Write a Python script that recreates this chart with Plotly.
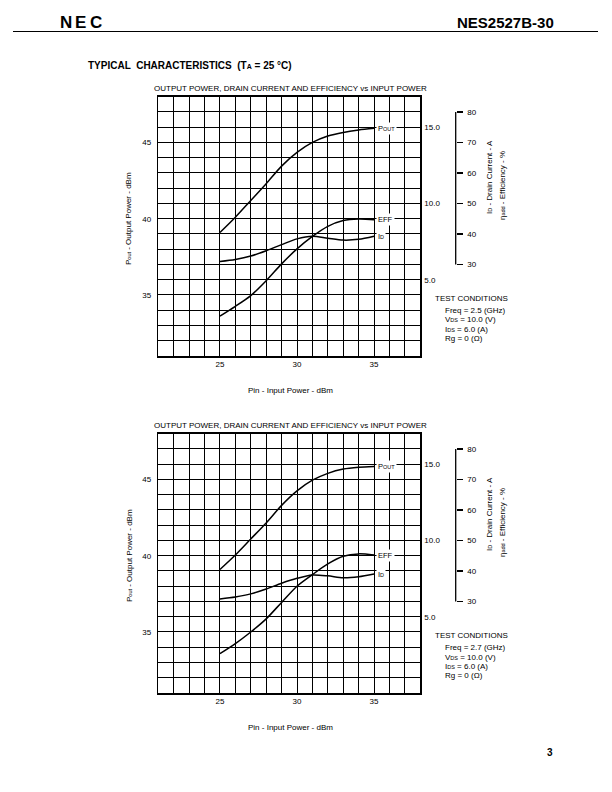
import plotly.graph_objects as go

# ---------------- data ----------------
pin = [25, 26, 27, 28, 29, 30, 31, 32, 33, 34, 35]

# chart 1 : Freq = 2.5 GHz
pout_a = [39.1, 40.1, 41.2, 42.3, 43.45, 44.35, 45.0, 45.42, 45.66, 45.82, 45.93]
eff_a = [13.1, 16.3, 19.8, 24.7, 30.2, 35.1, 39.2, 42.5, 44.4, 44.9, 44.7]
id_a = [6.2, 6.33, 6.55, 6.9, 7.3, 7.68, 7.85, 7.72, 7.6, 7.65, 7.85]

# chart 2 : Freq = 2.7 GHz
pout_b = [39.1, 40.05, 41.1, 42.15, 43.3, 44.25, 44.95, 45.4, 45.68, 45.8, 45.85]
eff_b = [12.9, 16.2, 20.0, 24.3, 29.7, 35.0, 38.8, 42.3, 44.8, 45.6, 45.2]
id_b = [6.17, 6.3, 6.5, 6.82, 7.2, 7.52, 7.74, 7.68, 7.55, 7.62, 7.8]

x_ticks = [25, 30, 35]
pout_ticks = [35, 40, 45]
id_ticks = [5, 10, 15]
id_ticktext = ["5.0", "10.0", "15.0"]
eff_ticks = [30, 40, 50, 60, 70, 80]

freq_a = "Freq = 2.5 (GHz)"
freq_b = "Freq = 2.7 (GHz)"
chart_title = "OUTPUT POWER, DRAIN CURRENT AND EFFICIENCY vs INPUT POWER"

# ---------------- layout helpers ----------------
W, H = 612, 792
FONT = "Liberation Sans, Arial, sans-serif"
FS = 8


def px(x):
    return x / W


def py(y):
    return 1 - y / H


def sm(t, s=5.5):
    return f"<span style='font-size:{s}px'>{t}</span>"


L, R = 158.3, 420.3
TOP1, BOT1 = 96.7, 356.0
OFF = 337.0
EFF_X = 455.7
GW = 1

fig = go.Figure()
annotations = []
shapes = []


def ann(x, y, text, size=FS, xanchor="left", bold=False, angle=0, yanchor="middle"):
    annotations.append(dict(x=px(x), y=py(y), xref="paper", yref="paper",
                            text=f"<b>{text}</b>" if bold else text,
                            showarrow=False, xanchor=xanchor, yanchor=yanchor, textangle=angle,
                            font=dict(family=FONT, size=size, color="black")))


charts = [
    dict(k=1, top=TOP1, bot=BOT1, pout=pout_a, eff=eff_a, idd=id_a, freq=freq_a),
    dict(k=2, top=TOP1 + OFF, bot=BOT1 + OFF, pout=pout_b, eff=eff_b, idd=id_b, freq=freq_b),
]

lay = {}
for c in charts:
    k = c["k"]
    xn = "x" if k == 1 else "x2"
    xl = "xaxis" if k == 1 else "xaxis2"
    yi = 1 if k == 1 else 4
    yn = "y" if yi == 1 else f"y{yi}"
    yl = "yaxis" if yi == 1 else f"yaxis{yi}"
    yid_n, yid_l = f"y{yi+1}", f"yaxis{yi+1}"
    yef_n, yef_l = f"y{yi+2}", f"yaxis{yi+2}"
    tf = dict(family=FONT, size=FS, color="black")

    lay[xl] = dict(domain=[px(L), px(R)], range=[21, 38], anchor=yn, tickvals=x_ticks,
                   ticks="", showgrid=True, gridcolor="black", gridwidth=GW,
                   minor=dict(dtick=1, showgrid=True, gridcolor="black", gridwidth=GW, ticks=""),
                   showline=True, mirror=True, linecolor="black", linewidth=1.5,
                   zeroline=False, tickfont=tf, fixedrange=True, ticklabelstandoff=0)
    lay[yl] = dict(domain=[py(c["bot"]), py(c["top"])], range=[31, 48], anchor=xn,
                   tickvals=pout_ticks, ticks="", showgrid=True, gridcolor="black", gridwidth=GW,
                   minor=dict(dtick=1, showgrid=True, gridcolor="black", gridwidth=GW, ticks=""),
                   showline=True, mirror=True, linecolor="black", linewidth=1.5,
                   zeroline=False, tickfont=tf, fixedrange=True, ticklabelstandoff=4)
    lay[yid_l] = dict(overlaying=yn, side="right", anchor=xn, range=[0, 17],
                      tickvals=id_ticks, ticktext=id_ticktext, showgrid=False, zeroline=False,
                      showline=False, ticks="", tickfont=tf, fixedrange=True, ticklabelstandoff=3)
    lay[yef_l] = dict(overlaying=yn, side="right", anchor="free", position=px(EFF_X),
                      range=[0, 85], tickvals=eff_ticks, ticks="outside", ticklen=6,
                      tickwidth=1.3, tickcolor="black", showgrid=False, zeroline=False,
                      showline=False, tickfont=tf, fixedrange=True, ticklabelstandoff=3)

    shapes.append(dict(type="line", xref="paper", yref=yef_n, x0=px(EFF_X), x1=px(EFF_X),
                       y0=eff_ticks[0], y1=eff_ticks[-1], line=dict(color="black", width=1.3)))

    line = dict(color="black", width=1.5, shape="spline", smoothing=0.8)
    fig.add_trace(go.Scatter(x=pin, y=c["pout"], xaxis=xn, yaxis=yn, mode="lines",
                             line=line, hoverinfo="skip", showlegend=False))
    fig.add_trace(go.Scatter(x=pin, y=c["idd"], xaxis=xn, yaxis=yid_n, mode="lines",
                             line=line, hoverinfo="skip", showlegend=False))
    fig.add_trace(go.Scatter(x=pin, y=c["eff"], xaxis=xn, yaxis=yef_n, mode="lines",
                             line=line, hoverinfo="skip", showlegend=False))

    # curve labels (white boxes over grid)
    d = (k - 1) * OFF
    for xv, yv, ax, txt in [
        (35.1, c["pout"][-1], yn, "P" + sm("OUT")),
        (35.1, c["eff"][-1], yef_n, "EFF"),
        (35.1, c["idd"][-1], yid_n, "I" + sm("D")),
    ]:
        annotations.append(dict(x=xv, y=yv, xref=xn, yref=ax, text=txt, showarrow=False,
                                xanchor="left", yanchor="middle", bgcolor="white", borderpad=1,
                                font=dict(family=FONT, size=7.5, color="black")))

    ann(290, 88 + d, chart_title, xanchor="center")
    ann(129, 219 + d, "P" + sm("out") + " - Output Power - dBm", xanchor="center", angle=-90)
    ann(290, 390 + d, "Pin - Input Power - dBm", xanchor="center")
    ann(489, 177 + d, "I" + sm("D") + " - Drain Current - A", xanchor="center", angle=-90)
    ann(502, 186 + d, "η" + sm("add") + " - Efficiency - %", xanchor="center", angle=-90)
    ann(433, 298 + d, "TEST CONDITIONS")
    ann(443, 310.5 + d, c["freq"])
    ann(443, 320 + d, "V" + sm("DS") + " = 10.0 (V)")
    ann(443, 329.3 + d, "I" + sm("DS") + " = 6.0 (A)")
    ann(443, 338.5 + d, "Rg = 0 (Ω)")

# header / page
for cx, ch in [(65.5, "N"), (80.5, "E"), (96, "C")]:
    ann(cx, 22, ch, size=17, xanchor="center", bold=True)
ann(556, 22, "NES2527B-30", size=15, xanchor="right", bold=True)
ann(86, 65, "TYPICAL  CHARACTERISTICS  (T" + sm("A", 7) + " = 25 °C)", size=10, bold=True)
ann(555, 752, "3", size=10, xanchor="right", bold=True)
shapes.append(dict(type="line", xref="paper", yref="paper", x0=px(13), x1=px(598),
                   y0=py(31.5), y1=py(31.5), line=dict(color="black", width=1.2)))

fig.update_layout(width=W, height=H, margin=dict(l=0, r=0, t=0, b=0, pad=0),
                  paper_bgcolor="white", plot_bgcolor="white", showlegend=False,
                  annotations=annotations, shapes=shapes, font=dict(family=FONT, color="black"),
                  **lay)

fig.write_html("out.html", post_script="document.body.style.margin='0px';",
               config={"displayModeBar": False, "staticPlot": True})
